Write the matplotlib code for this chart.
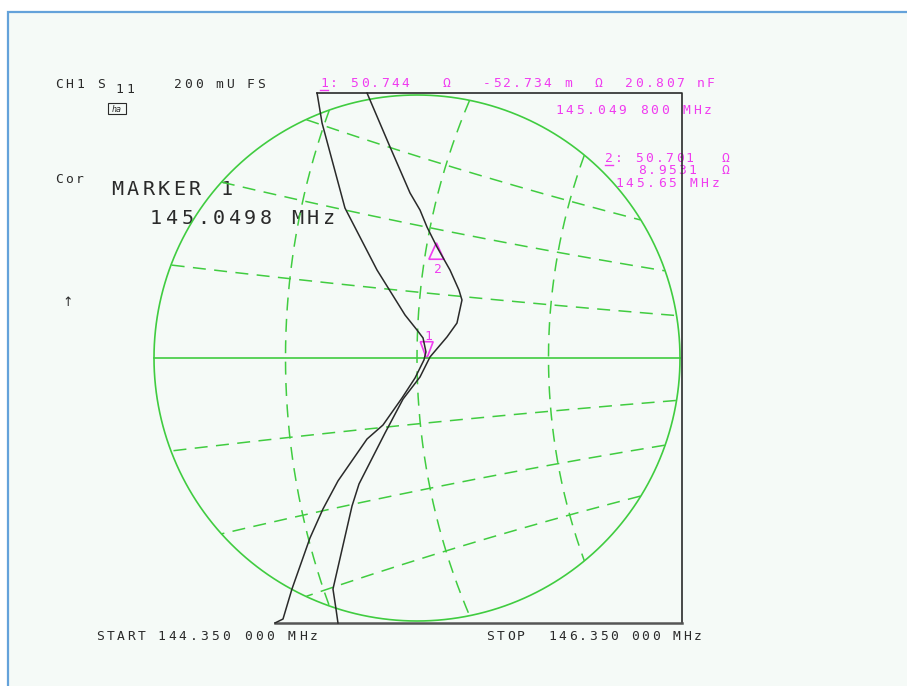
import numpy as np
import matplotlib.pyplot as plt
from matplotlib.patches import Rectangle, Polygon

W, H = 907, 686
FS = 200.0            # full scale of the zoomed Smith chart, mU
BOX = 201.5           # graticule box edge, mU
PX_PER_MU = 1.315
CX, CY = 417, 358     # chart centre in pixels

GREEN = "#40cc40"
MAG = "#f03cf0"
INK = "#2a2a2a"
SMALL = 9.4
BIG = 14.5

# dashed grid: real-axis crossings of the R circles (mU) and the X arcs
res_cross = [-100, 0, 100]
react = [0.1, 0.2, 0.3, -0.1, -0.2, -0.3]

# traces (reflection coefficient, mU)
trace_a_re = [-76.0, -72.2, -54.8, -30.4, -9.1, 0.0, 4.6, 6.8, 5.3, -1.5, -11.4,
              -25.9, -38.0, -60.1, -71.5, -81.4, -95.1, -101.9, -108.0]
trace_a_im = [201.5, 178.7, 114.1, 66.9, 32.7, 21.3, 15.2, 4.6, -1.5, -15.2, -30.4,
              -51.0, -61.6, -93.5, -114.8, -136.9, -175.7, -198.5, -201.5]
trace_b_re = [-38.0, -20.5, -5.3, 2.3, 7.6, 15.2, 25.1, 31.9, 34.2, 30.4, 22.8,
              9.9, 2.3, -10.6, -24.3, -44.1, -49.4, -63.9, -61.6, -60.1]
trace_b_im = [201.5, 160.5, 125.5, 112.5, 99.6, 84.4, 66.9, 51.7, 44.1, 26.6, 16.0,
              0.8, -14.4, -31.2, -57.0, -95.8, -112.5, -175.7, -190.9, -201.5]

# marker impedances, ohm
Z0 = 50.0
mk_z = [50.744 - 0.052734j, 50.701 + 8.9531j]


fig = plt.figure(figsize=(W / 100, H / 100), dpi=100)
fig.patch.set_facecolor("white")

# pixel overlay for the screen frame and the annotation text
tx = fig.add_axes([0, 0, 1, 1], zorder=0)
tx.set_xlim(0, W)
tx.set_ylim(H, 0)
tx.axis("off")
tx.add_patch(Rectangle((8, 12), 920, 700, facecolor="#f5faf7",
                       edgecolor="#64a2da", lw=1.6))


def mono(x, y, s, pitch, size=SMALL, color=INK):
    # stroke-font look: fixed character pitch
    for i, ch in enumerate(s):
        if ch != " ":
            tx.text(x + i * pitch, y, ch, fontsize=size, color=color,
                    family="DejaVu Sans Mono", ha="left", va="baseline")


mono(55, 88, "CH1 S", 10.5)
mono(115, 93, "11", 11)
mono(174, 88, "200 mU FS", 10.4)
tx.add_patch(Rectangle((108, 103), 18, 11, fill=False, edgecolor=INK, lw=0.8))
tx.text(117, 112.5, "ha", fontsize=6, color=INK, family="DejaVu Sans Mono",
        ha="center", va="baseline", style="italic")
mono(55, 183, "Cor", 10.5)
mono(111, 195, "MARKER 1", 15.6, BIG)
mono(150, 224, "145.0498 MHz", 15.7, BIG)
tx.text(68, 302, "\u2191", fontsize=9, color=INK, ha="center", va="center")

mono(320, 87, "1: 50.744   \u03a9   -52.734 m  \u03a9  20.807 nF", 10.17, color=MAG)
tx.plot([320, 328], [90, 90], color=MAG, lw=1)
mono(555, 114, "145.049 800 MHz", 10.6, color=MAG)
mono(605, 162, "2: 50.701", 10.1, color=MAG)
tx.plot([605, 613], [165, 165], color=MAG, lw=1)
mono(638, 174, "8.9531", 10.1, color=MAG)
mono(721, 162, "\u03a9", 10, color=MAG)
mono(721, 174, "\u03a9", 10, color=MAG)
mono(615, 187, "145.65 MHz", 10.7, color=MAG)

mono(96, 640, "START", 10.4)
mono(157, 640, "144.350 000 MHz", 10.9)
mono(486, 640, "STOP", 10.4)
mono(548, 640, "146.350 000 MHz", 10.4)

# chart axes in mU, placed so the centre and scale match the screen
xl, yl = 230, 215
ax = fig.add_axes([(CX - xl * PX_PER_MU) / W, (H - CY - yl * PX_PER_MU) / H,
                   2 * xl * PX_PER_MU / W, 2 * yl * PX_PER_MU / H], zorder=1)
ax.set_xlim(-xl, xl)
ax.set_ylim(-yl, yl)
ax.patch.set_alpha(0)
ax.axis("off")


def arc_inside(cx, cy, rad):
    phi0 = np.arctan2(-cy, -cx)
    th = phi0 + np.linspace(-np.pi, np.pi, 60001)
    x = cx + rad * np.cos(th)
    y = cy + rad * np.sin(th)
    keep = x ** 2 + y ** 2 <= FS ** 2
    return x[keep], y[keep]


dash = (0, (8.5, 5.5))
for g in res_cross:
    r = (1000 + g) / (1000 - g)
    xs, ys = arc_inside(1000 * r / (1 + r), 0, 1000 / (1 + r))
    ax.plot(xs, ys, color=GREEN, lw=1.1, ls=dash)
for xv in react:
    xs, ys = arc_inside(1000, 1000 / xv, 1000 / abs(xv))
    ax.plot(xs, ys, color=GREEN, lw=1.1, ls=dash)

t = np.linspace(0, 2 * np.pi, 721)
ax.plot(FS * np.cos(t), FS * np.sin(t), color=GREEN, lw=1.2)
ax.plot([-FS, FS], [0, 0], color=GREEN, lw=1.2)

# graticule box, closed by trace A on the left
ax.plot([trace_a_re[0], BOX, BOX], [BOX, BOX, -BOX], color=INK, lw=1.2)
ax.plot([BOX, trace_a_re[-1]], [-BOX, -BOX], color="#555555", lw=1.8)

ax.plot(trace_a_re, trace_a_im, color=INK, lw=1.1)
ax.plot(trace_b_re, trace_b_im, color=INK, lw=1.1)

# markers
gam = [1000 * (z - Z0) / (z + Z0) for z in mk_z]
g1, g2 = gam
ax.add_patch(Polygon([(g1.real, g1.imag), (g1.real - 4.9, g1.imag + 12.9),
                      (g1.real + 4.9, g1.imag + 12.9)], closed=True,
                     fill=False, edgecolor=MAG, lw=1.2))
ax.text(g1.real + 1.2, g1.imag + 14, "1", color=MAG, fontsize=SMALL,
        family="DejaVu Sans Mono", ha="center", va="baseline")
ax.add_patch(Polygon([(g2.real, g2.imag), (g2.real - 5.7, g2.imag - 12.5),
                      (g2.real + 5.7, g2.imag - 12.5)], closed=True,
                     fill=False, edgecolor=MAG, lw=1.2))
ax.text(g2.real + 1.2, g2.imag - 23, "2", color=MAG, fontsize=SMALL,
        family="DejaVu Sans Mono", ha="center", va="baseline")

fig.savefig("out.png", dpi=100)
